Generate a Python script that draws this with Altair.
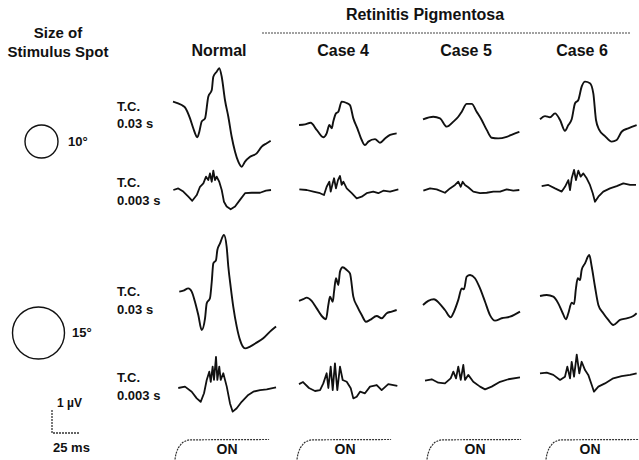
import altair as alt
import pandas as pd

# ---------------- data (ms, µV) ----------------
# Row 1: 10° spot, T.C. 0.03 s
norm_10_03_t = [0, 7.8, 10.7, 15.2, 18.1, 21.7, 23.5, 25.6, 28.6, 31.5, 34.6, 36.0, 39.0, 41.3, 43.5, 46.4, 49.4, 52.4, 55.4, 58.3, 61.3, 64.3, 68.8, 74.7, 79.2, 83.7, 87.2]
norm_10_03_v = [0.80, 0.65, 0.55, 0.07, -0.36, -0.75, -0.51, -0.07, 0.07, 1.01, 1.30, 1.88, 2.10, 2.25, 1.88, 0.87, 0.14, -0.73, -1.38, -1.81, -2.03, -1.81, -1.60, -1.45, -1.16, -1.01, -0.90]
case4_10_03_t = [0, 5.4, 10.4, 15.8, 21.7, 24.7, 27.1, 29.2, 30.6, 33.0, 35.1, 38.1, 42.0, 45.5, 48.5, 52.1, 56.0, 58.9, 61.9, 67.9, 72.3, 76.8, 81.3, 87.2]
case4_10_03_v = [-0.22, -0.19, -0.12, -0.43, -0.75, -0.58, -0.22, -0.36, -0.07, 0.29, 0.36, 0.80, 0.75, 0.65, 0.07, -0.36, -0.87, -1.09, -0.94, -0.83, -0.99, -0.80, -0.65, -0.58]
case5_10_03_t = [0, 9.2, 15.2, 21.2, 27.1, 31.5, 34.6, 39.0, 43.5, 47.9, 52.4, 56.9, 61.3, 67.2, 74.7, 80.6, 86.0]
case5_10_03_v = [0.03, 0.14, 0.07, -0.29, -0.07, 0.14, 0.36, 0.70, 0.70, 0.36, 0.0, -0.43, -0.77, -0.80, -0.73, -0.61, -0.51]
case6_10_03_t = [0, 4.5, 8.9, 13.4, 17.9, 22.3, 25.3, 28.3, 31.3, 34.2, 37.2, 40.2, 44.6, 47.6, 50.0, 52.9, 58.0, 64.0, 68.5, 72.9, 78.8, 86.3]
case6_10_03_v = [0.03, 0.17, 0.12, 0.29, 0.0, -0.47, -0.22, 0.03, 0.73, 0.87, 1.45, 1.67, 1.60, 1.16, 0.0, -0.43, -0.70, -0.94, -0.87, -0.51, -0.36, -0.22]

# Row 2: 10° spot, T.C. 0.003 s
norm_10_003_t = [0.3, 4.7, 9.2, 13.7, 17.2, 21.2, 24.1, 27.1, 29.5, 31.5, 33.0, 34.6, 36.0, 37.5, 39.0, 41.3, 43.5, 45.5, 47.9, 51.5, 55.4, 59.8, 64.3, 70.3, 77.7, 83.0, 87.5]
norm_10_003_v = [0, 0.07, -0.07, -0.29, -0.47, -0.22, 0.14, 0.29, 0.58, 0.43, 0.72, 0.36, 0.84, 0.43, 0.58, 0.36, 0.0, -0.51, -0.72, -0.84, -0.72, -0.43, -0.14, -0.12, -0.12, -0.03, 0]
case4_10_003_t = [0.3, 6.9, 12.8, 18.8, 22.3, 24.7, 27.1, 28.3, 30.1, 31.3, 33.0, 34.8, 36.6, 38.1, 39.6, 42.6, 47.1, 51.5, 56.0, 60.4, 66.3, 70.8, 75.3, 81.3, 88.7]
case4_10_003_v = [0.03, 0, -0.07, -0.14, -0.22, 0.14, 0.36, -0.07, 0.29, 0.51, 0.07, 0.43, 0.61, 0.22, 0.36, 0.07, -0.14, -0.36, -0.29, -0.14, -0.07, -0.14, -0.03, -0.07, 0.03]
case5_10_003_t = [0.3, 6.3, 12.2, 19.6, 24.1, 28.6, 31.5, 33.7, 35.4, 37.5, 40.4, 44.9, 50.9, 56.9, 62.8, 68.8, 74.7, 80.6, 86.0]
case5_10_003_v = [-0.03, 0.07, 0.03, -0.12, 0.07, 0.22, 0.36, 0.14, 0.36, 0.22, 0.12, -0.07, -0.14, -0.12, -0.07, -0.07, 0.03, -0.03, 0]
case6_10_003_t = [1.5, 7.4, 13.4, 19.4, 22.3, 25.3, 26.8, 28.3, 30.4, 32.1, 34.2, 36.3, 38.7, 41.7, 44.6, 47.1, 49.1, 52.1, 56.5, 62.5, 68.5, 74.4, 80.4, 85.7]
case6_10_003_v = [0.17, 0.22, 0.07, -0.07, 0.14, 0.43, 0, 0.51, 0.87, 0.43, 0.84, 0.58, 0.72, 0.51, 0.22, -0.14, -0.51, -0.29, -0.07, 0.07, 0.17, 0.29, 0.22, 0.22]

# Row 3: 15° spot, T.C. 0.03 s
norm_15_03_t = [5.6, 9.2, 13.7, 16.7, 19.6, 22.6, 25.6, 28.6, 30.1, 33.0, 34.6, 36.0, 38.4, 39.6, 42.0, 45.5, 47.9, 49.4, 51.5, 53.8, 56.9, 59.8, 64.3, 68.8, 74.7, 80.6, 86.6, 92.0]
norm_15_03_v = [-0.07, -0.03, 0.07, -0.07, -0.51, -1.09, -1.74, -1.23, -0.58, -0.36, 0.36, 1.16, 1.30, 1.74, 2.03, 2.39, 1.88, 1.01, 0.14, -0.72, -1.59, -2.17, -2.54, -2.46, -2.29, -2.10, -1.81, -1.59]
case4_15_03_t = [0, 3.8, 6.9, 11.3, 15.8, 20.3, 24.1, 26.2, 27.7, 30.1, 31.3, 33.0, 35.1, 36.6, 39.0, 42.6, 45.5, 48.5, 52.1, 56.0, 59.8, 63.4, 69.4, 73.8, 78.3, 82.8, 87.2]
case4_15_03_v = [-0.47, -0.40, -0.33, -0.47, -0.80, -1.13, -1.27, -0.65, -0.29, -0.51, -0.07, 0.51, 0.22, 0.80, 0.99, 0.87, 0.72, -0.29, -0.72, -1.09, -1.38, -1.30, -1.13, -1.23, -1.01, -0.94, -0.87]
case5_15_03_t = [0, 4.7, 9.8, 14.6, 19.6, 24.7, 27.7, 31.5, 34.6, 36.6, 39.0, 42.0, 46.4, 50.9, 55.4, 59.8, 64.3, 70.3, 77.7, 86.6]
case5_15_03_v = [-0.65, -0.47, -0.40, -0.58, -0.87, -1.19, -0.94, -0.43, 0.07, 0.03, 0.58, 0.65, 0.51, 0.07, -0.51, -1.09, -1.33, -1.23, -1.16, -0.94]
case6_15_03_t = [0, 6.0, 11.9, 16.3, 20.3, 23.2, 25.3, 28.3, 30.4, 32.1, 33.7, 35.7, 37.2, 40.2, 44.0, 46.2, 49.1, 52.1, 56.5, 61.0, 65.4, 71.4, 77.4, 83.3, 86.3]
case6_15_03_v = [-0.26, -0.22, -0.29, -0.58, -1.01, -1.27, -1.01, -0.55, -0.61, 0.07, 0.51, 0.43, 0.87, 1.16, 1.52, 1.01, 0.14, -0.65, -1.01, -1.30, -1.52, -1.30, -1.23, -1.13, -1.01]

# Row 4: 15° spot, T.C. 0.003 s
norm_15_003_t = [4.7, 10.7, 16.7, 21.2, 24.7, 27.7, 30.1, 32.4, 33.7, 35.4, 36.6, 38.4, 39.6, 41.3, 42.6, 44.9, 48.0, 50.9, 53.3, 56.9, 61.3, 67.2, 71.7, 77.7, 83.7, 92.0]
norm_15_003_v = [0, 0.06, -0.16, -0.45, -0.60, -0.23, 0.35, 0.71, 0.27, 0.93, 0.35, 1.35, 0.35, 0.93, 0.35, 0.64, 0.06, -0.67, -1.03, -0.88, -0.60, -0.30, -0.16, -0.09, -0.06, 0.03]
case4_15_003_t = [0, 3.6, 8.9, 14.3, 18.8, 21.7, 24.7, 26.2, 28.3, 30.1, 32.1, 34.2, 36.6, 39.0, 42.6, 46.2, 48.5, 51.5, 54.5, 58.9, 63.4, 69.4, 73.8, 79.7, 87.8]
case4_15_003_v = [0.17, 0.26, 0.0, -0.13, -0.09, 0.20, 0.64, 0, 0.93, -0.09, 1.07, -0.09, 0.93, 0.35, 0.27, -0.01, -0.45, -0.38, -0.16, -0.23, 0.06, 0.13, -0.09, 0.17, 0.09]
case5_15_003_t = [1.8, 7.8, 13.7, 19.6, 24.7, 27.1, 29.5, 31.5, 33.7, 36.0, 37.5, 40.4, 44.9, 50.9, 55.4, 61.3, 68.8, 76.2, 86.6]
case5_15_003_v = [0.32, 0.38, 0.23, 0.20, 0.42, 0.71, 0.42, 0.93, 0.35, 1.00, 0.35, 0.57, 0.27, 0.06, -0.06, 0.06, 0.27, 0.38, 0.46]
case6_15_003_t = [0, 6.0, 11.9, 17.9, 22.3, 24.4, 26.8, 28.3, 30.4, 32.8, 35.1, 37.2, 40.2, 43.1, 46.2, 48.2, 52.1, 58.0, 65.4, 72.9, 80.4, 86.3]
case6_15_003_v = [0.64, 0.67, 0.57, 0.35, 0.49, 0.93, 0.42, 1.14, 0.49, 1.45, 0.64, 1.14, 0.78, 0.57, 0.13, -0.16, 0.06, 0.20, 0.42, 0.52, 0.57, 0.64]

# stimulus (ON) marker: time (ms) and fraction of step
on_t = [0, 0.5, 1.5, 3, 4.5, 6, 7.5, 10, 13, 84]
on_level = [0, 0.18, 0.38, 0.58, 0.70, 0.80, 0.87, 0.94, 0.98, 1.0]

# calibration bar
cal_t = [0, 0, 25]
cal_v = [1, 0, 0]

columns = ["Normal", "Case 4", "Case 5", "Case 6"]
tc_labels = ["0.03 s", "0.003 s", "0.03 s", "0.003 s"]

# ---------------- layout ----------------
W, H = 639, 460
PX_PER_MS = 28 / 25.0
PX_PER_UV = 23.0
COL_X = [173, 299, 423, 540]      # left edge of each column (px)
ROW_Y = [120, 190, 290, 388]      # baseline of each row (px)
ON_X = [175, 297, 427, 546]
ON_Y = 459.5
ON_STEP_PX = 20


def xg(px):
    return px / PX_PER_MS


def yg(py):
    return (H - py) / PX_PER_UV


traces = [
    (0, 0, norm_10_03_t, norm_10_03_v), (1, 0, case4_10_03_t, case4_10_03_v),
    (2, 0, case5_10_03_t, case5_10_03_v), (3, 0, case6_10_03_t, case6_10_03_v),
    (0, 1, norm_10_003_t, norm_10_003_v), (1, 1, case4_10_003_t, case4_10_003_v),
    (2, 1, case5_10_003_t, case5_10_003_v), (3, 1, case6_10_003_t, case6_10_003_v),
    (0, 2, norm_15_03_t, norm_15_03_v), (1, 2, case4_15_03_t, case4_15_03_v),
    (2, 2, case5_15_03_t, case5_15_03_v), (3, 2, case6_15_03_t, case6_15_03_v),
    (0, 3, norm_15_003_t, norm_15_003_v), (1, 3, case4_15_003_t, case4_15_003_v),
    (2, 3, case5_15_003_t, case5_15_003_v), (3, 3, case6_15_003_t, case6_15_003_v),
]

rows = []
for k, (c, r, ts, vs) in enumerate(traces):
    for i, (t, v) in enumerate(zip(ts, vs)):
        rows.append({"trace": f"{columns[c]} r{r}", "i": i,
                     "slow": r in (0, 2),
                     "x": xg(COL_X[c]) + t, "y": yg(ROW_Y[r]) + v})
wave_df = pd.DataFrame(rows)
slow_df = wave_df[wave_df["slow"]].drop(columns="slow")
fast_df = wave_df[~wave_df["slow"]].drop(columns="slow")

on_rows = []
for c in range(4):
    for i, (t, f) in enumerate(zip(on_t, on_level)):
        on_rows.append({"trace": columns[c], "i": i, "x": xg(ON_X[c]) + t,
                        "y": yg(ON_Y) + f * ON_STEP_PX / PX_PER_UV})
on_df = pd.DataFrame(on_rows)

cal_df = pd.DataFrame({"i": range(3), "x": [xg(52) + t for t in cal_t],
                       "y": [yg(433) + v for v in cal_v]})

xs = alt.Scale(domain=[0, W / PX_PER_MS], nice=False, zero=False)
ys = alt.Scale(domain=[0, H / PX_PER_UV], nice=False, zero=False)

enc = dict(x=alt.X("x:Q", scale=xs, axis=None),
           y=alt.Y("y:Q", scale=ys, axis=None),
           order="i:Q")

slow = alt.Chart(slow_df).mark_line(color="#111111", strokeWidth=1.9,
                                    strokeJoin="round",
                                    interpolate="monotone").encode(
    detail="trace:N", **enc)
fast = alt.Chart(fast_df).mark_line(color="#111111", strokeWidth=1.8,
                                    strokeJoin="round").encode(
    detail="trace:N", **enc)

onmarks = alt.Chart(on_df).mark_line(color="#333333", strokeWidth=1.2,
                                     strokeDash=[2, 1],
                                     interpolate="monotone").encode(
    detail="trace:N", **enc)

calbar = alt.Chart(cal_df).mark_line(color="#333333", strokeWidth=1.3,
                                     strokeDash=[2, 1]).encode(**enc)

FONT = "Liberation Sans"
one = pd.DataFrame({"a": [0]})


def label(text, px, py, size=16, align="center", weight="bold"):
    return alt.Chart(one).mark_text(text=text, font=FONT, fontSize=size,
                                    fontWeight=weight, align=align,
                                    baseline="middle", color="#111111").encode(
        x=alt.value(px), y=alt.value(py))


labels = [
    label("Size of", 58, 33, 15),
    label("Stimulus Spot", 58, 52, 15),
    label("Retinitis Pigmentosa", 425, 15, 16),
    label("Normal", 219, 51, 16),
    label("Case 4", 343, 51, 16),
    label("Case 5", 466, 51, 16),
    label("Case 6", 582, 51, 16),
    label("10°", 68, 142, 13, "left"),
    label("15°", 72, 333, 13, "left"),
    label("1 µV", 57, 403, 12, "left"),
    label("25 ms", 53, 448, 13, "left"),
]
tc_y = [(107, 124), (183, 201), (292, 310), (378, 396)]
for (y1, y2), s in zip(tc_y, tc_labels):
    labels.append(label("T.C.", 117, y1, 13, "left"))
    labels.append(label(s, 117, y2, 13, "left"))
for cx in [227, 345, 475, 590]:
    labels.append(label("ON", cx, 450, 14))

circle10 = alt.Chart(one).mark_point(shape="circle", filled=False, size=33 * 33,
                                     color="#111111", opacity=1,
                                     strokeWidth=1.4).encode(
    x=alt.value(41.5), y=alt.value(141.5))
circle15 = alt.Chart(one).mark_point(shape="circle", filled=False, size=52 * 52,
                                     color="#111111", opacity=1,
                                     strokeWidth=1.4).encode(
    x=alt.value(38.5), y=alt.value(333))

underline = alt.Chart(one).mark_rule(color="#444444", strokeWidth=1.1,
                                     strokeDash=[2, 1]).encode(
    x=alt.value(262), x2=alt.value(630), y=alt.value(33))

chart = alt.layer(slow, fast, onmarks, calbar, circle10, circle15, underline,
                  *labels).properties(
    width=W, height=H, padding=0,
    autosize=alt.AutoSizeParams(type="none"),
    background="white",
).configure_view(stroke=None)

chart.save("out.html", embed_options={"renderer": "svg", "actions": False})
